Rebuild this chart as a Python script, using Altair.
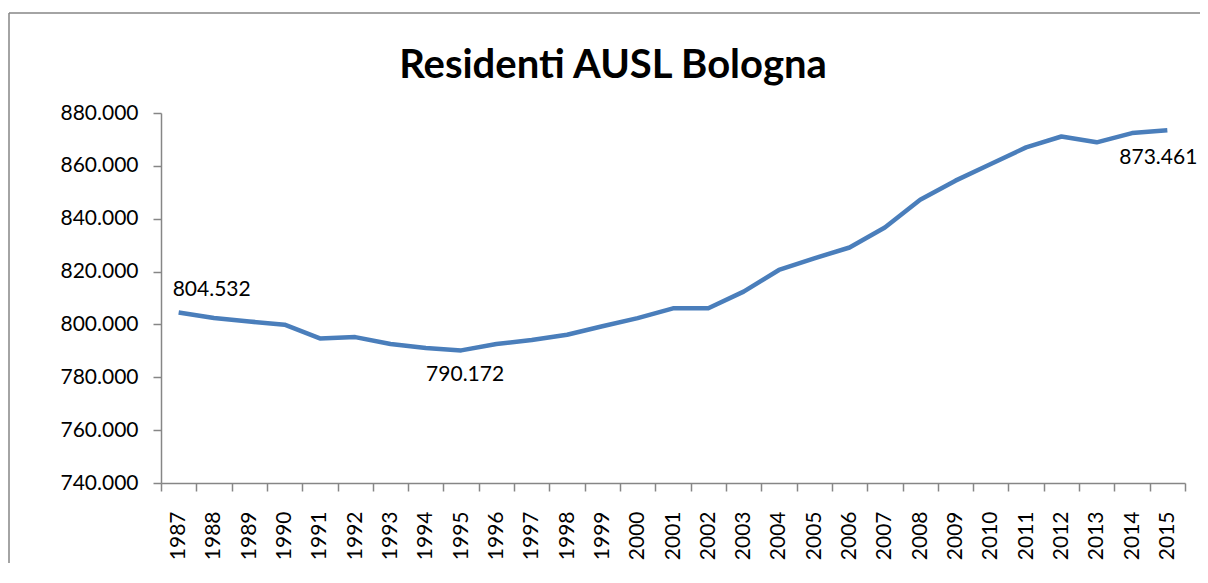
import altair as alt
import pandas as pd

years = [str(y) for y in range(1987, 2016)]
residents = [804532, 802400, 801100, 799900, 794700, 795200, 792600, 791100, 790172,
             792600, 794100, 796100, 799300, 802400, 806100, 806100, 812400, 820600,
             825000, 829100, 836700, 847200, 854400, 860700, 867000, 871100, 868900,
             872400, 873461]
y_ticks = [740000, 760000, 780000, 800000, 820000, 840000, 860000, 880000]
title_text = "Residenti AUSL Bologna"

df = pd.DataFrame({"anno": years, "residenti": residents})

FONT = "Lato"
AXIS_GREY = "#868686"
LINE_BLUE = "#4A7EBB"
FS = 21

x_enc = alt.X("anno:O", title=None,
              scale=alt.Scale(paddingInner=0, paddingOuter=0),
              axis=alt.Axis(labelAngle=270, labelAlign="right", labelBaseline="middle",
                            labelPadding=20, tickSize=8, tickBand="extent", grid=False,
                            domainColor=AXIS_GREY, tickColor=AXIS_GREY,
                            domainWidth=1.5, tickWidth=1.5,
                            labelFont=FONT, labelFontSize=FS, labelColor="#000000"))
y_enc = alt.Y("residenti:Q", title=None,
              scale=alt.Scale(domain=[740000, 880000], nice=False, zero=False),
              axis=alt.Axis(values=y_ticks, grid=False, tickSize=8, labelPadding=15,
                            labelExpr="replace(format(datum.value, ','), ',', '.')",
                            domainColor=AXIS_GREY, tickColor=AXIS_GREY,
                            domainWidth=1.5, tickWidth=1.5,
                            labelFont=FONT, labelFontSize=FS, labelColor="#000000"))

base = alt.Chart(df)

line = base.mark_line(color=LINE_BLUE, strokeWidth=4.5, strokeJoin="round").encode(x=x_enc, y=y_enc)

lab_expr = "replace(format(datum.residenti, ','), ',', '.')"

def label(year, **kw):
    return (base.transform_filter(alt.datum.anno == year)
            .transform_calculate(lab=lab_expr)
            .mark_text(font=FONT, fontSize=FS, color="#000000", baseline="middle", **kw)
            .encode(x="anno:O", y="residenti:Q", text="lab:N"))

lab1 = label("1987", align="left", dx=-6, dy=-22)
lab2 = label("1995", align="center", dx=4, dy=25)
lab3 = label("2015", align="center", dx=-9, dy=28)

one = pd.DataFrame({"t": [title_text]})

# chart title, as real text above the plot
title = alt.Chart(one).mark_text(font=FONT, fontSize=40, fontWeight="bold", color="#000000",
                                 align="center", baseline="alphabetic").encode(
    text="t:N", x=alt.value(452), y=alt.value(-35))

# outer chart frame (decoration, like the Excel chart area border)
frame_left = alt.Chart(one).mark_rule(color=AXIS_GREY, strokeWidth=1.5).encode(
    x=alt.value(-152), y=alt.value(-100), y2=alt.value(480))
frame_top = alt.Chart(one).mark_rule(color=AXIS_GREY, strokeWidth=1.5).encode(
    x=alt.value(-152), x2=alt.value(1060), y=alt.value(-100))

chart = alt.layer(frame_left, frame_top, line, lab1, lab2, lab3, title).properties(
    width=1024, height=370,
    background="white",
    autosize=alt.AutoSizeParams(type="none"),
    padding={"left": 153, "top": 105, "right": 15, "bottom": 80},
).configure_view(strokeWidth=0, stroke="transparent")

chart.save("out.html", embed_options={"renderer": "svg", "actions": False})
